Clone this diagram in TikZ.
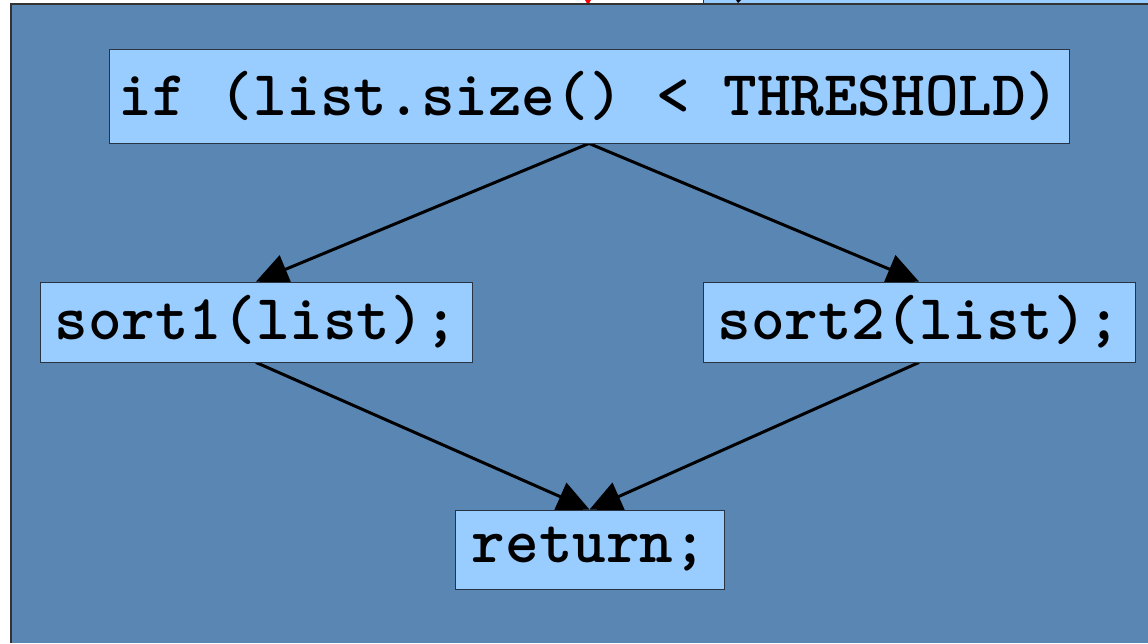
\documentclass[tikz,border=0pt]{standalone}
\usetikzlibrary{arrows.meta}
\pgfdeclarelayer{bg}
\pgfdeclarelayer{arr}
\pgfsetlayers{bg,arr,main}
\definecolor{panel}{RGB}{89,134,179}
\definecolor{boxfill}{RGB}{153,204,255}
\definecolor{boxline}{RGB}{40,52,66}
\begin{document}
\begin{tikzpicture}[x=1pt,y=-1pt,
  codebox/.style={draw=boxline, line width=0.9pt, fill=boxfill, inner sep=0pt,
    font=\ttfamily\bfseries\fontsize{64}{66}\selectfont, text=black},
  flow/.style={draw=black, line width=3pt, -{Triangle[length=32pt,width=30pt]}}]
\useasboundingbox (0,0) rectangle (1148,643);
\begin{pgfonlayer}{bg}
  \fill[white] (0,0) rectangle (1148,643);
  \fill[boxfill] (703,0) rectangle (1148,4);
  \draw[boxline, line width=0.9pt] (703,0) -- (703,4);
  \fill[black] (736,0) -- (741,0) -- (738,3) -- cycle;
  \fill[red] (585,0) -- (591,0) -- (588,5) -- cycle;
  \fill[panel] (11,4) rectangle (1148,643);
  \draw[black!80, line width=1.2pt] (11,643) -- (11,4) -- (1148,4);
\end{pgfonlayer}

\node[codebox, minimum width=960pt, minimum height=94pt] (cond) at (589,96) {if (list.size() < THRESHOLD)};
\node[codebox, minimum width=432pt, minimum height=80pt] (sorta) at (256,322) {sort1(list);};
\node[codebox, minimum width=432pt, minimum height=80pt] (sortb) at (919,322) {sort2(list);};
\node[codebox, minimum width=269pt, minimum height=79pt] (ret) at (589.5,549.5) {return;};

\begin{pgfonlayer}{arr}
  \draw[flow] (cond.south) -- (sorta.north);
  \draw[flow] (cond.south) -- (sortb.north);
  \draw[flow] (sorta.south) -- (ret.north);
  \draw[flow] (sortb.south) -- (ret.north);
\end{pgfonlayer}
\end{tikzpicture}
\end{document}
